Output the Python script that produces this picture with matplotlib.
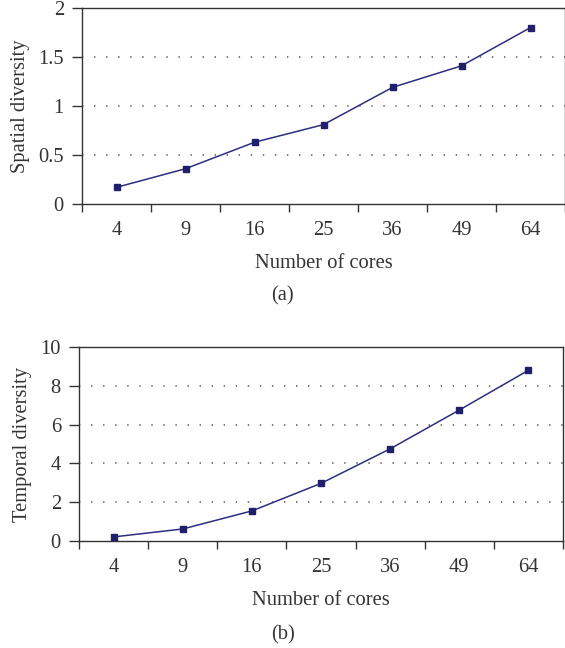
import numpy as np
import matplotlib
matplotlib.use('Agg')
import matplotlib.pyplot as plt

cores = ['4', '9', '16', '25', '36', '49', '64']
spatial = [0.17, 0.36, 0.63, 0.81, 1.19, 1.41, 1.80]
temporal = [0.21, 0.62, 1.55, 2.97, 4.75, 6.75, 8.80]

plt.rcParams['font.family'] = ['Liberation Serif', 'DejaVu Serif']
plt.rcParams['font.size'] = 14.8
plt.rcParams['text.color'] = '#333333'
plt.rcParams['axes.labelcolor'] = '#333333'
plt.rcParams['xtick.color'] = '#333333'
plt.rcParams['ytick.color'] = '#333333'

line_col = '#2e2e7e'
mark_col = '#1f1f6b'

fig = plt.figure(figsize=(5.65, 6.48), dpi=100)
ax1 = fig.add_axes([82/565, 1-204/648, 483/565, 196/648])
ax2 = fig.add_axes([79/565, 1-541/648, 484/565, 194/648])


def draw(ax, vals, ymax, ystep, ylabel, label_fmt):
    x = np.arange(len(cores))
    ax.plot(x, vals, color=line_col, lw=1.1, marker='s', ms=5,
            mfc=mark_col, mec=mark_col, zorder=3)
    ax.set_xlim(-0.5, len(cores) - 0.5)
    ax.set_ylim(0, ymax)
    yt = np.arange(0, ymax + ystep / 2, ystep)
    ax.set_yticks(yt)
    ax.set_yticklabels([label_fmt(v) for v in yt])
    # dotted gridlines only inside the box
    for v in yt[1:-1]:
        ax.axhline(v, color='#777777', lw=1.4, ls=(0, (0.7, 5.5)), zorder=1)
    # major ticks at category boundaries, labels at centres
    ax.set_xticks(np.arange(-0.5, len(cores), 1.0))
    ax.set_xticklabels([])
    ax.set_xticks(x, minor=True)
    ax.set_xticklabels(cores, minor=True)
    ax.tick_params(axis='x', which='major', direction='out', length=6, width=1.0)
    ax.tick_params(axis='x', which='minor', length=0, pad=12)
    ax.tick_params(axis='y', direction='out', length=7, width=1.0, pad=6)
    for s in ax.spines.values():
        s.set_color('#333333')
        s.set_linewidth(1.0)
    ax.set_xlabel('Number of cores', labelpad=10)
    ax.set_ylabel(ylabel, labelpad=6)


draw(ax1, spatial, 2, 0.5, 'Spatial diversity', lambda v: '%g' % v)
draw(ax2, temporal, 10, 2, 'Temporal diversity', lambda v: '%d' % v)

fig.text(0.5, 1 - 296/648, '(a)', ha='center', va='center')
fig.text(0.5, 1 - 635/648, '(b)', ha='center', va='center')

fig.savefig('out.png', dpi=100)
